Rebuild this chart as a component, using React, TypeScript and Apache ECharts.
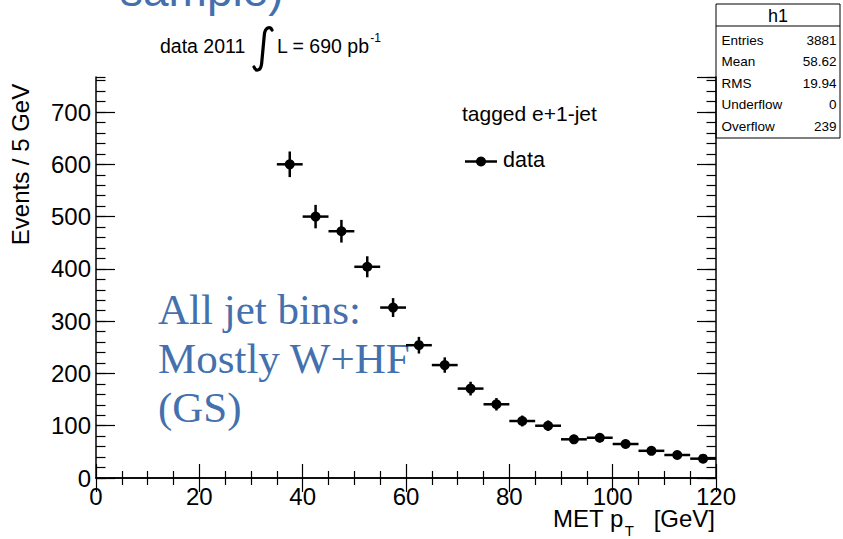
import React, { useEffect, useRef } from "react";
import * as echarts from "echarts";

// MET distribution, 5 GeV bins, tagged e+1-jet selection
const binCenters = [37.5, 42.5, 47.5, 52.5, 57.5, 62.5, 67.5, 72.5, 77.5, 82.5, 87.5, 92.5, 97.5, 102.5, 107.5, 112.5, 117.5];
const counts = [600, 500, 472, 404, 326, 254, 216, 171, 141, 109, 100, 74, 77, 65, 52, 44, 37];
const countErrors = [24.5, 22.4, 21.7, 20.1, 18.1, 15.9, 14.7, 13.1, 11.9, 10.4, 10.0, 8.6, 8.8, 8.1, 7.2, 6.6, 6.1];
const halfBin = 2.5;

const xRange = [0, 120];
const yRange = [0, 767];

const statsTitle = "h1";
const statsLabels = ["Entries", "Mean", "RMS", "Underflow", "Overflow"];
const statsValues = ["3881", "58.62", "19.94", "0", "239"];

const SANS = "'Liberation Sans', Arial, Helvetica, sans-serif";
const SERIF = "'Liberation Serif', 'Times New Roman', serif";
const BLUE = "#4470ae";

// width of a string in the sans font, used to butt sub/superscripts against their base text
function textWidth(text: string, fontSize: number) {
  const ctx = document.createElement("canvas").getContext("2d");
  if (!ctx) return text.length * fontSize * 0.55;
  ctx.font = `${fontSize}px ${SANS}`;
  return ctx.measureText(text).width;
}

function sansText(x: number, y: number, text: string, fontSize: number, align = "left", extra: any = {}) {
  return {
    type: "text",
    x,
    y,
    style: { text, fontSize, fontFamily: SANS, fill: "#000", align, verticalAlign: "middle" },
    ...extra,
  };
}

function serifText(x: number, y: number, text: string) {
  return {
    type: "text",
    x,
    y,
    style: { text, fontSize: 43, fontFamily: SERIF, fill: BLUE, align: "left", verticalAlign: "middle" },
  };
}

export default function App() {
  const ref = useRef<HTMLDivElement>(null);

  useEffect(() => {
    if (!ref.current) return;
    const chart = echarts.init(ref.current, null, { renderer: "svg" });

    // integral sign for the luminosity label
    echarts.graphic.registerShape(
      "integralSign",
      echarts.graphic.extendPath("M19 3 C17 -1 12 0 11.3 8 L 8.7 36 C 8 44 3 45 1 40", {})
    );

    const axisLine = { show: true, lineStyle: { color: "#000", width: 1.5 } };
    const tickStyle = { color: "#000", width: 1.2 };

    const xMajor = (position: string, showLabel: boolean) => ({
      type: "value",
      position,
      min: xRange[0],
      max: xRange[1],
      interval: 20,
      axisLine,
      axisTick: { show: true, inside: true, length: 14, lineStyle: tickStyle },
      minorTick: { show: true, splitNumber: 4, length: 7, lineStyle: tickStyle },
      splitLine: { show: false },
      minorSplitLine: { show: false },
      axisLabel: {
        show: showLabel,
        margin: 6,
        fontSize: 24,
        fontFamily: SANS,
        color: "#000",
      },
    });

    const yAxisDef = (position: string, interval: number, tickLen: number, showLabel: boolean, lineShown: boolean) => ({
      type: "value",
      position,
      min: yRange[0],
      max: yRange[1],
      interval,
      axisLine: lineShown ? axisLine : { show: false },
      axisTick: { show: true, inside: true, length: tickLen, lineStyle: tickStyle },
      splitLine: { show: false },
      axisLabel: {
        show: showLabel,
        showMaxLabel: false,
        margin: 5,
        fontSize: 24,
        fontFamily: SANS,
        color: "#000",
        formatter: (v: number) => (v % 100 === 0 ? String(v) : ""),
      },
    });

    const points = binCenters.map((x, i) => [x, counts[i], countErrors[i]]);

    const statsRowsGraphic: any[] = [];
    statsLabels.forEach((label, i) => {
      const cy = 40.5 + i * 21.4;
      statsRowsGraphic.push(sansText(721.5, cy, label, 13.5, "left"));
      statsRowsGraphic.push(sansText(836.5, cy, statsValues[i], 13.5, "right"));
    });

    const lumiX = 277;
    const lumiEnd = lumiX + textWidth("L = 690 pb", 19.5);
    const metX = 553;
    const metEnd = metX + textWidth("MET p", 24);

    chart.setOption({
      animation: false,
      backgroundColor: "#fff",
      grid: { left: 96, right: 127, top: 77, bottom: 61, containLabel: false },
      xAxis: [xMajor("bottom", true), xMajor("top", false)],
      yAxis: [
        yAxisDef("left", 100, 19, true, true),
        yAxisDef("left", 20, 9.5, false, false),
        yAxisDef("right", 100, 19, false, true),
        yAxisDef("right", 20, 9.5, false, false),
      ],
      series: [
        {
          type: "custom",
          name: "data",
          xAxisIndex: 0,
          yAxisIndex: 0,
          data: points,
          encode: { x: 0, y: 1 },
          clip: false,
          renderItem: (params: any, api: any) => {
            const x = api.value(0);
            const y = api.value(1);
            const e = api.value(2);
            const c = api.coord([x, y]);
            const l = api.coord([x - halfBin, y]);
            const r = api.coord([x + halfBin, y]);
            const t = api.coord([x, y + e]);
            const b = api.coord([x, y - e]);
            const stroke = { stroke: "#000", lineWidth: 2.5 };
            return {
              type: "group",
              children: [
                { type: "line", shape: { x1: l[0], y1: l[1], x2: r[0], y2: r[1] }, style: stroke },
                { type: "line", shape: { x1: t[0], y1: t[1], x2: b[0], y2: b[1] }, style: stroke },
                { type: "circle", shape: { cx: c[0], cy: c[1], r: 5 }, style: { fill: "#000" } },
              ],
            };
          },
        },
      ],
      graphic: [
        // partially visible slide title
        {
          type: "text",
          x: 120,
          y: -10,
          style: { text: "sample)", fontSize: 46, fontFamily: SANS, fill: BLUE, align: "left", verticalAlign: "middle" },
        },
        // luminosity label
        sansText(160, 46, "data 2011", 19.5),
        {
          type: "integralSign",
          x: 253,
          y: 27,
          style: { stroke: "#000", lineWidth: 3.2, fill: null, lineCap: "round" },
        },
        sansText(lumiX, 46, "L = 690 pb", 19.5),
        sansText(lumiEnd + 0.5, 37.5, "-1", 12),
        // axis titles
        sansText(20, 164.5, "Events / 5 GeV", 24, "center", { rotation: Math.PI / 2 }),
        sansText(metX, 518, "MET p", 24),
        sansText(metEnd + 1, 530, "T", 15),
        sansText(715, 518, "[GeV]", 24, "right"),
        // selection and legend
        sansText(462, 113.7, "tagged e+1-jet", 21),
        {
          type: "line",
          shape: { x1: 465, y1: 161.5, x2: 497, y2: 161.5 },
          style: { stroke: "#000", lineWidth: 2.5 },
        },
        { type: "circle", shape: { cx: 481, cy: 161.5, r: 5 }, style: { fill: "#000" } },
        sansText(503, 160, "data", 21.5),
        // annotation
        serifText(158, 309, "All jet bins:"),
        serifText(158, 358.5, "Mostly W+HF"),
        serifText(158, 407.5, "(GS)"),
        // statistics box
        {
          type: "rect",
          shape: { x: 716, y: 4, width: 124, height: 134 },
          style: { fill: "#fff", stroke: "#000", lineWidth: 1 },
        },
        {
          type: "line",
          shape: { x1: 716, y1: 26, x2: 840, y2: 26 },
          style: { stroke: "#000", lineWidth: 1 },
        },
        sansText(778, 16, statsTitle, 18, "center"),
        ...statsRowsGraphic,
      ],
    });

    return () => chart.dispose();
  }, []);

  return <div ref={ref} style={{ width: 843, height: 539, position: "absolute", left: 0, top: 0 }} />;
}
